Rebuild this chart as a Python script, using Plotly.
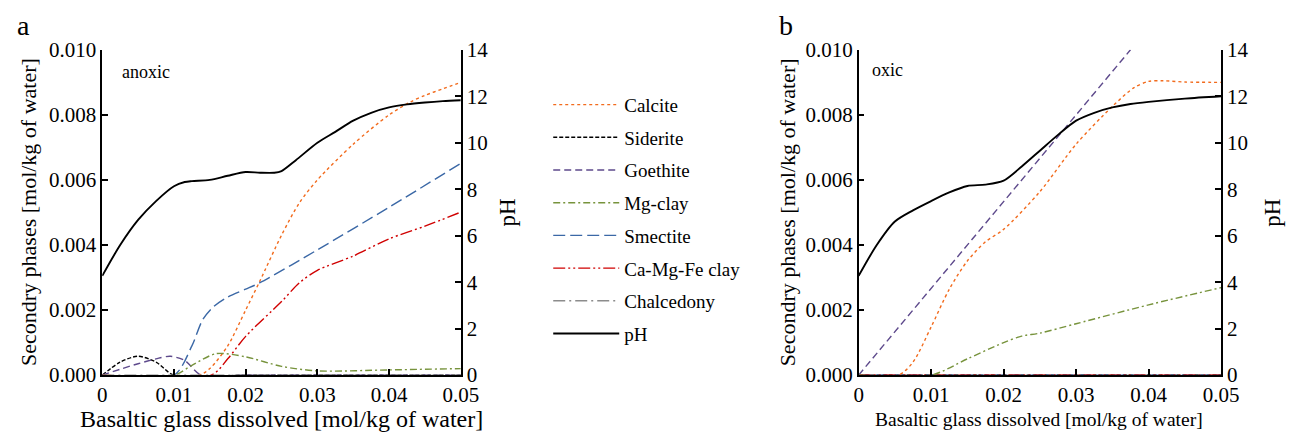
import plotly.graph_objects as go

# ---------------- Data ----------------
# Panel a (anoxic)
a_x_ph = [0, 0.0025, 0.005, 0.0075, 0.01, 0.0115, 0.0125, 0.015, 0.0175, 0.02, 0.022, 0.024, 0.025,
          0.027, 0.03, 0.0325, 0.035, 0.0375, 0.04, 0.0425, 0.045, 0.0475, 0.05]
a_ph = [4.27, 5.6, 6.68, 7.49, 8.13, 8.31, 8.35, 8.40, 8.58, 8.74, 8.71, 8.71, 8.78,
        9.25, 10.0, 10.47, 10.95, 11.29, 11.52, 11.65, 11.73, 11.79, 11.83]

a_x_calcite = [0, 0.0135, 0.015, 0.0175, 0.02, 0.022, 0.025, 0.0275, 0.03, 0.035, 0.04, 0.043, 0.045, 0.0475, 0.05]
a_calcite = [0, 0, 0.0002, 0.0009, 0.002, 0.0029, 0.0043, 0.0053, 0.006, 0.0071, 0.0080, 0.0084, 0.0086, 0.0088, 0.0090]

a_x_siderite = [0, 0.0025, 0.005, 0.0075, 0.01, 0.02, 0.03, 0.04, 0.05]
a_siderite = [0, 0.0004, 0.00058, 0.0004, 0, 0, 0, 0, 0]

a_x_goethite = [0, 0.0025, 0.005, 0.0075, 0.0095, 0.0115, 0.0138, 0.02, 0.03, 0.04, 0.05]
a_goethite = [0, 0.00018, 0.00035, 0.0005, 0.00058, 0.00045, 0, 0, 0, 0, 0]

a_x_mgclay = [0, 0.01, 0.0125, 0.0159, 0.02, 0.025, 0.03, 0.04, 0.05]
a_mgclay = [0, 0, 0.0003, 0.00066, 0.00056, 0.00027, 0.00013, 0.00016, 0.0002]

a_x_smectite = [0, 0.0100, 0.0125, 0.014, 0.0155, 0.0175, 0.02, 0.022, 0.03, 0.04, 0.05]
a_smectite = [0, 0, 0.0009, 0.0017, 0.0021, 0.0024, 0.00264, 0.00284, 0.00385, 0.00516, 0.00651]

a_x_camgfe = [0, 0.0152, 0.0175, 0.02, 0.025, 0.0275, 0.03, 0.035, 0.04, 0.045, 0.05]
a_camgfe = [0, 0, 0.0005, 0.00119, 0.00226, 0.00284, 0.00322, 0.00366, 0.00419, 0.00458, 0.00501]

a_x_chalcedony = [0, 0.01, 0.02, 0.03, 0.04, 0.05]
a_chalcedony = [0, 0, 0, 0, 0, 0]

# Panel b (oxic)
b_x_ph = [0, 0.0025, 0.005, 0.0075, 0.01, 0.0125, 0.015, 0.0175, 0.02, 0.0225, 0.025, 0.0275,
          0.03, 0.0325, 0.035, 0.0375, 0.04, 0.045, 0.05]
b_ph = [4.27, 5.6, 6.61, 7.09, 7.49, 7.86, 8.14, 8.20, 8.37, 8.98, 9.66, 10.34,
        10.95, 11.29, 11.52, 11.67, 11.76, 11.90, 12.0]

b_x_calcite = [0, 0.0055, 0.0075, 0.01, 0.0125, 0.015, 0.0175, 0.02, 0.025, 0.03, 0.035, 0.038, 0.04, 0.042, 0.045, 0.05]
b_calcite = [0, 0, 0.0004, 0.00148, 0.00264, 0.00351, 0.0041, 0.00448, 0.00564, 0.0071, 0.00826, 0.00884, 0.00903, 0.00905, 0.00901, 0.0090]

b_x_goethite = [0, 0.0375]
b_goethite = [0, 0.010]

b_x_mgclay = [0, 0.01, 0.015, 0.02, 0.0225, 0.025, 0.03, 0.04, 0.05]
b_mgclay = [0, 0, 0.0005, 0.001, 0.0012, 0.00129, 0.00158, 0.00216, 0.00269]

b_x_zero = [0, 0.01, 0.02, 0.03, 0.04, 0.05]
b_zero = [0, 0, 0, 0, 0, 0]

# ---------------- Styles ----------------
SERIF = "Liberation Serif"
styles = {
    "Calcite": dict(color="#F26B1D", dash="dot", width=1.4),
    "Siderite": dict(color="#000000", dash="4px,2px", width=1.4),
    "Goethite": dict(color="#5E4A8C", dash="7px,4px", width=1.4),
    "Mg-clay": dict(color="#77933C", dash="7px,3px,2px,3px", width=1.4),
    "Smectite": dict(color="#3B68A6", dash="12px,5px", width=1.4),
    "Ca-Mg-Fe clay": dict(color="#D00000", dash="12px,3px,2px,3px,2px,3px", width=1.4),
    "Chalcedony": dict(color="#8C8C8C", dash="12px,4px,2px,4px", width=1.4),
    "pH": dict(color="#000000", dash="solid", width=1.9),
}

fig = go.Figure()

def add(name, x, y, xa, ya, show):
    fig.add_trace(go.Scatter(
        x=x, y=y, mode="lines", name=name, legendgroup=name, showlegend=show,
        line=dict(shape="spline", smoothing=0.8, **styles[name]),
        xaxis=xa, yaxis=ya, hoverinfo="skip"))

# Panel a
add("Calcite", a_x_calcite, a_calcite, "x", "y", True)
add("Siderite", a_x_siderite, a_siderite, "x", "y", True)
add("Goethite", a_x_goethite, a_goethite, "x", "y", True)
add("Mg-clay", a_x_mgclay, a_mgclay, "x", "y", True)
add("Smectite", a_x_smectite, a_smectite, "x", "y", True)
add("Ca-Mg-Fe clay", a_x_camgfe, a_camgfe, "x", "y", True)
add("Chalcedony", a_x_chalcedony, a_chalcedony, "x", "y", True)
add("pH", a_x_ph, a_ph, "x", "y2", True)

# Panel b
add("Chalcedony", b_x_zero, b_zero, "x2", "y3", False)
add("Siderite", b_x_zero, b_zero, "x2", "y3", False)
add("Smectite", b_x_zero, b_zero, "x2", "y3", False)
add("Ca-Mg-Fe clay", b_x_zero, b_zero, "x2", "y3", False)
add("Calcite", b_x_calcite, b_calcite, "x2", "y3", False)
add("Goethite", b_x_goethite, b_goethite, "x2", "y3", False)
add("Mg-clay", b_x_mgclay, b_mgclay, "x2", "y3", False)
add("pH", b_x_ph, b_ph, "x2", "y4", False)

W, H = 1301, 441
ax_common = dict(showline=True, linecolor="black", linewidth=1.6, ticks="inside", ticklen=6,
                 tickwidth=1.6, tickcolor="black", showgrid=False, zeroline=False,
                 tickfont=dict(family=SERIF, size=21, color="black"))

y_dom = [(441 - 384) / H, (441 - 40) / H]
xa_dom = [99 / W, 464 / W]
xb_dom = [869 / W, 1238 / W]

fig.update_layout(
    width=W, height=H, margin=dict(l=0, r=0, t=0, b=0),
    paper_bgcolor="white", plot_bgcolor="white",
    font=dict(family=SERIF, color="black"),
    xaxis=dict(domain=xa_dom, range=[0, 0.05], dtick=0.01, anchor="y", **ax_common),
    yaxis=dict(domain=y_dom, range=[0, 0.010], dtick=0.002, tickformat=".3f", anchor="x", **ax_common),
    yaxis2=dict(range=[0, 14], dtick=2, overlaying="y", side="right", anchor="x", **ax_common),
    xaxis2=dict(domain=xb_dom, range=[0, 0.05], dtick=0.01, anchor="y3", **ax_common),
    yaxis3=dict(domain=y_dom, range=[0, 0.010], dtick=0.002, tickformat=".3f", anchor="x2", **ax_common),
    yaxis4=dict(range=[0, 14], dtick=2, overlaying="y3", side="right", anchor="x2", **ax_common),
    legend=dict(x=553 / W, y=(441 - 78) / H, xanchor="left", yanchor="top",
                font=dict(family=SERIF, size=19, color="black"),
                tracegroupgap=5, itemwidth=66, bgcolor="rgba(0,0,0,0)"),
    showlegend=True,
)

ann = []
def txt(x, y, s, size, angle=0, xanchor="center", yanchor="middle"):
    ann.append(dict(x=x / W, y=(H - y) / H, xref="paper", yref="paper", text=s, showarrow=False,
                    font=dict(family=SERIF, size=size, color="black"), textangle=angle,
                    xanchor=xanchor, yanchor=yanchor))

txt(19, 14, "a", 28)
txt(795, 14, "b", 28)
txt(117, 63, "anoxic", 18, xanchor="left")
txt(881, 61, "oxic", 18, xanchor="left")
txt(24, 212, "Secondry phases [mol/kg of water]", 22, angle=-90)
txt(797, 212, "Secondry phases [mol/kg of water]", 22, angle=-90)
txt(511, 212, "pH", 23, angle=-90)
txt(1290, 212, "pH", 23, angle=-90)
txt(281, 430, "Basaltic glass dissolved [mol/kg of water]", 24)
txt(1053, 431, "Basaltic glass dissolved [mol/kg of water]", 19.5)
fig.update_layout(annotations=ann)

fig.write_html("out.html")
